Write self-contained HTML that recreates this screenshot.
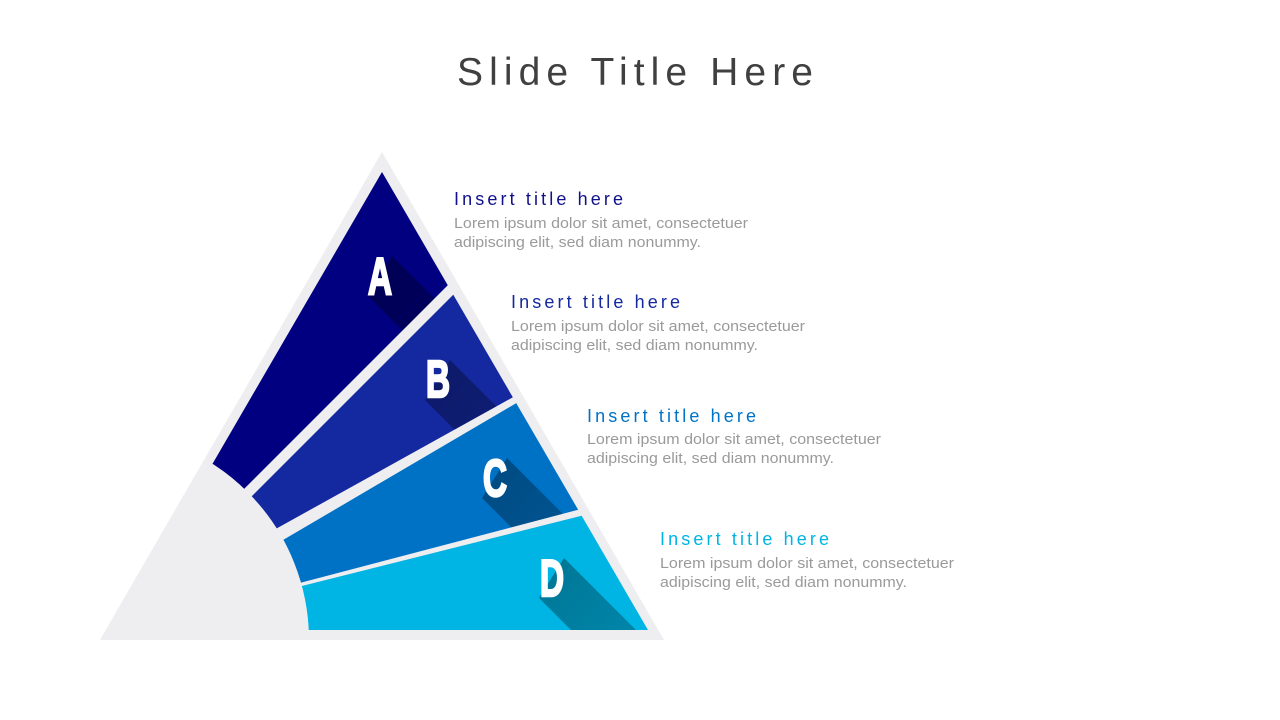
<!DOCTYPE html>
<html><head><meta charset="utf-8"><style>
html,body{margin:0;padding:0;background:#fff;width:1280px;height:720px;overflow:hidden}
svg{display:block}
</style></head><body>
<svg width="1280" height="720" viewBox="0 0 1280 720" xmlns="http://www.w3.org/2000/svg">
<defs>
<clipPath id="outer"><polygon points="382,152 100,640 664,640"/></clipPath>
<clipPath id="inner"><polygon points="382,172 116,630 648,630"/></clipPath>
<clipPath id="cA"><polygon points="150,583 150,100 600,100 600,133"/></clipPath>
<clipPath id="cB"><polygon points="200,548 485,263 562,370 200,571"/></clipPath>
<clipPath id="cC"><polygon points="220,577 600,354 600,504 220,604"/></clipPath>
<clipPath id="cD"><polygon points="230,604 700,486 700,630 230,630"/></clipPath>
<linearGradient id="sh" x1="0" y1="0" x2="1" y2="1">
<stop offset="0" stop-color="#000" stop-opacity="0.35"/><stop offset="1" stop-color="#000" stop-opacity="0.1"/></linearGradient>
</defs>
<rect width="1280" height="720" fill="#fff"/>
<text x="457" y="85" font-family="Liberation Sans, sans-serif" font-size="39" fill="#404040" textLength="356" lengthAdjust="spacing">Slide Title Here</text>
<polygon points="382,152 100,640 664,640" fill="#eeedf0"/>
<g clip-path="url(#inner)">
 <g clip-path="url(#cA)"><rect x="0" y="0" width="1280" height="720" fill="#000080"/>
  <polygon points="368,296 392,256 592,456 568,496" fill="url(#sh)"/></g>
 <g clip-path="url(#cB)"><rect x="0" y="0" width="1280" height="720" fill="#1428a0"/>
  <polygon points="425,400 450,360 650,560 625,600" fill="url(#sh)"/></g>
 <g clip-path="url(#cC)"><rect x="0" y="0" width="1280" height="720" fill="#0072c6"/>
  <polygon points="482,498 507,458 707,658 682,698" fill="url(#sh)"/></g>
 <g clip-path="url(#cD)"><rect x="0" y="0" width="1280" height="720" fill="#00b4e4"/>
  <polygon points="539,598 564,558 764,758 739,798" fill="url(#sh)"/></g>
</g>
<g clip-path="url(#outer)"><circle cx="100" cy="640" r="208" fill="#eeedf0" stroke="#eeedf0" stroke-width="2"/></g>
<g font-family="Liberation Sans, sans-serif" font-weight="bold" fill="#fff" stroke="#fff" stroke-width="2.5" font-size="52" text-anchor="middle">
<text x="380" y="294" textLength="24" lengthAdjust="spacingAndGlyphs">A</text>
<text x="438" y="397" textLength="24" lengthAdjust="spacingAndGlyphs">B</text>
<text x="495" y="496" textLength="24" lengthAdjust="spacingAndGlyphs">C</text>
<text x="552" y="596" textLength="24" lengthAdjust="spacingAndGlyphs">D</text>
</g>
<g font-family="Liberation Sans, sans-serif">
<text x="454" y="205" font-size="18" fill="#10108a" textLength="169" lengthAdjust="spacing">Insert title here</text>
<text x="454" y="228" font-size="15" fill="#9a9a9a" textLength="294" lengthAdjust="spacingAndGlyphs">Lorem ipsum dolor sit amet, consectetuer</text>
<text x="454" y="247" font-size="15" fill="#9a9a9a" textLength="247" lengthAdjust="spacingAndGlyphs">adipiscing elit, sed diam nonummy.</text>
<text x="511" y="308" font-size="18" fill="#1428a0" textLength="169" lengthAdjust="spacing">Insert title here</text>
<text x="511" y="331" font-size="15" fill="#9a9a9a" textLength="294" lengthAdjust="spacingAndGlyphs">Lorem ipsum dolor sit amet, consectetuer</text>
<text x="511" y="350" font-size="15" fill="#9a9a9a" textLength="247" lengthAdjust="spacingAndGlyphs">adipiscing elit, sed diam nonummy.</text>
<text x="587" y="422" font-size="18" fill="#0072c6" textLength="169" lengthAdjust="spacing">Insert title here</text>
<text x="587" y="444" font-size="15" fill="#9a9a9a" textLength="294" lengthAdjust="spacingAndGlyphs">Lorem ipsum dolor sit amet, consectetuer</text>
<text x="587" y="463" font-size="15" fill="#9a9a9a" textLength="247" lengthAdjust="spacingAndGlyphs">adipiscing elit, sed diam nonummy.</text>
<text x="660" y="545" font-size="18" fill="#00b4e4" textLength="169" lengthAdjust="spacing">Insert title here</text>
<text x="660" y="568" font-size="15" fill="#9a9a9a" textLength="294" lengthAdjust="spacingAndGlyphs">Lorem ipsum dolor sit amet, consectetuer</text>
<text x="660" y="587" font-size="15" fill="#9a9a9a" textLength="247" lengthAdjust="spacingAndGlyphs">adipiscing elit, sed diam nonummy.</text>
</g>
</svg>
</body></html>
